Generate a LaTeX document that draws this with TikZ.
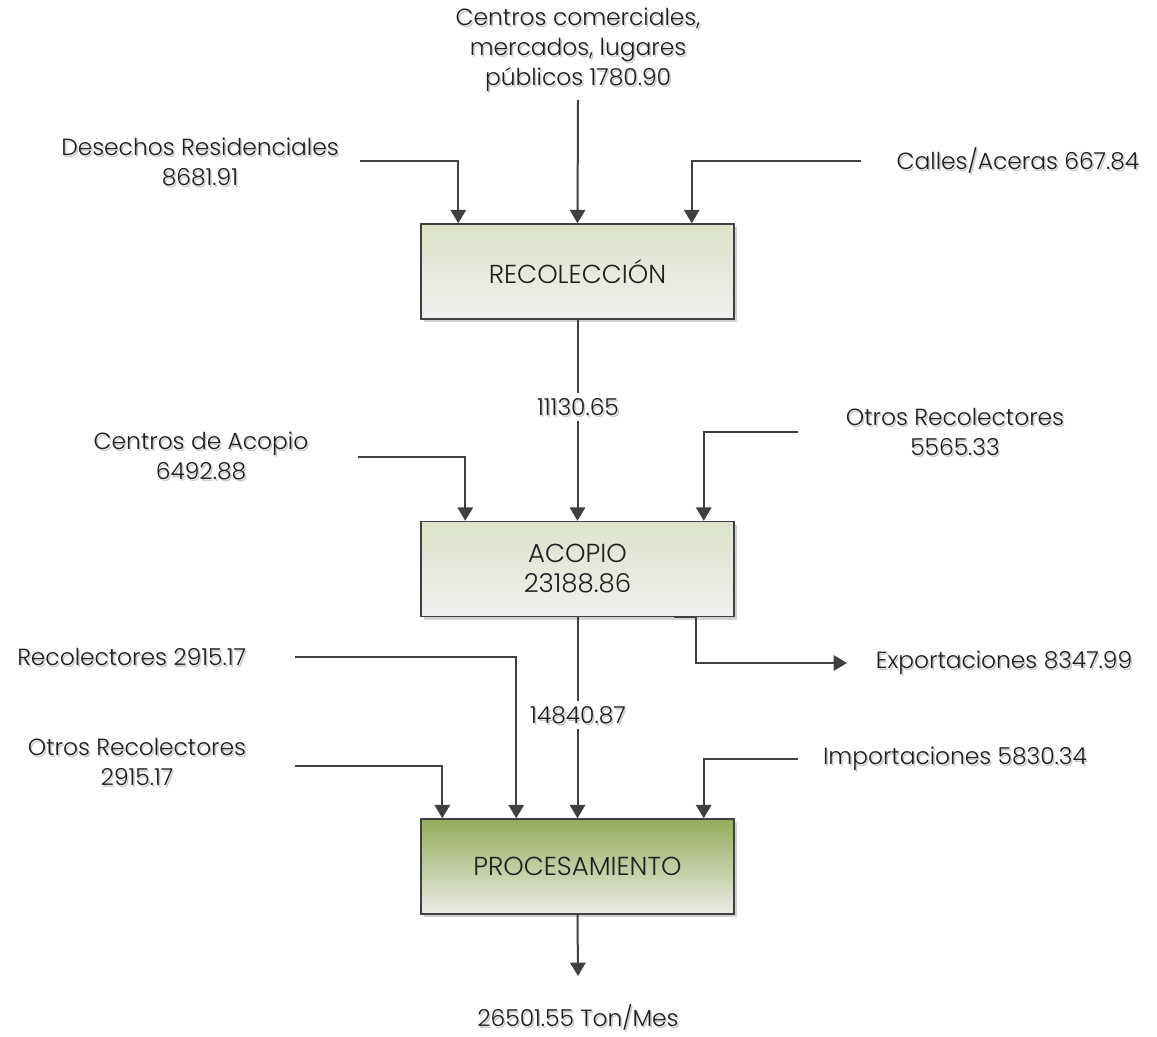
\documentclass[tikz,border=0pt]{standalone}
\usepackage{fontspec}
\setmainfont{Poppins}[UprightFont=* Light]
\usetikzlibrary{arrows.meta,shadows,calc}
\definecolor{ink}{HTML}{1E1E1E}
\definecolor{linec}{HTML}{404040}
\definecolor{shtxt}{HTML}{C8C8C8}
\definecolor{lighttop}{HTML}{DCE3C9}
\definecolor{lightbot}{HTML}{F0F0F0}
\definecolor{darktop}{HTML}{95AB5B}
\definecolor{darkbot}{HTML}{EBECE6}
\newcommand\shlabel[4][]{%
  \node[txtsh,#1] (#2-sh) at ($(#3)+(1.5,2)$) {#4};
  \node[txt,#1] (#2) at (#3) {#4};}
\tikzset{
  txt/.style={font=\fontsize{17.5}{22.5}\selectfont, text=ink, align=center, inner sep=0pt},
  txtsh/.style={txt, text=shtxt},
  box/.style={draw=linec, line width=1.1pt, minimum width=313*0.75pt, minimum height=95*0.75pt,
    inner sep=0pt, font=\fontsize{19.5}{22.5}\selectfont, text=ink, align=center,
    drop shadow={shadow xshift=2.25pt, shadow yshift=-2.25pt, fill=black!18, opacity=1}},
  lightbox/.style={box, top color=lighttop, bottom color=lightbot},
  darkbox/.style={box, top color=darktop, bottom color=darkbot},
  arr/.style={draw=linec, line width=1.5pt, -{Triangle[width=11.5pt,length=10pt]}},
  cover/.style={fill=white, inner xsep=3pt, inner ysep=4pt, font=\fontsize{17.5}{22.5}\selectfont, text=white},
}
\begin{document}
\begin{tikzpicture}[x=0.75pt, y=-0.75pt]
\useasboundingbox[fill=white] (0,0) rectangle (1157,1036);

% boxes
\node[lightbox] (rec) at (577.5,271.5) {RECOLECCIÓN};
\node[lightbox] (aco) at (577.5,569) {ACOPIO\\23188.86};
\node[darkbox]  (pro) at (577.5,866.5) {PROCESAMIENTO};

% labels
\shlabel{cc}{578,50}{Centros comerciales,\\mercados, lugares\\públicos 1780.90}
\shlabel{des}{200,162}{Desechos Residenciales\\8681.91}
\shlabel{cal}{1018,160}{Calles/Aceras 667.84}
\shlabel{cda}{201,456}{Centros de Acopio\\6492.88}
\shlabel{or1}{955,432}{Otros Recolectores\\5565.33}
\shlabel[anchor=west]{r2}{17,657}{Recolectores 2915.17}
\shlabel{or2}{137,762}{Otros Recolectores\\2915.17}
\shlabel{imp}{955,759}{Importaciones 5830.34}
\shlabel{exp}{1004,663}{Exportaciones 8347.99}
\shlabel{out}{578,1017}{26501.55 Ton/Mes}

% connector end points
\coordinate (c-cc)  at (578,100);
\coordinate (c-des) at (360,161);
\coordinate (c-cal) at (861,161);
\coordinate (c-cda) at (358,457);
\coordinate (c-or1) at (798,432);
\coordinate (c-r2)  at (295,657);
\coordinate (c-or2) at (295,766);
\coordinate (c-imp) at (798,759);
\coordinate (c-exp) at (847,663);
\coordinate (c-out) at (578,976);

% into RECOLECCION
\draw[arr] (c-des) -| ([xshift=38*0.75pt]rec.north west);
\draw[arr] (c-cc) -- (rec.north);
\draw[arr] (c-cal) -| ([xshift=-43*0.75pt]rec.north east);

% RECOLECCION -> ACOPIO
\draw[arr] (rec.south) -- (aco.north);
\node[cover] (l1-bg) at (578,407) {11130.65};
\shlabel{l1}{578,407}{11130.65}
\draw[arr] (c-cda) -| ([xshift=45*0.75pt]aco.north west);
\draw[arr] (c-or1) -| ([xshift=-31*0.75pt]aco.north east);

% ACOPIO -> PROCESAMIENTO
\draw[arr] (aco.south) -- (pro.north);
\node[cover] (l2-bg) at (578,715) {14840.87};
\shlabel{l2}{578,715}{14840.87}
\draw[arr] ([xshift=-61*0.75pt]aco.south east) -| ($(c-exp)+(-151,0)$) -- (c-exp);
\draw[arr] (c-r2) -| ([xshift=96*0.75pt]pro.north west);
\draw[arr] (c-or2) -| ([xshift=22*0.75pt]pro.north west);
\draw[arr] (c-imp) -| ([xshift=-31*0.75pt]pro.north east);

% output
\draw[arr] (pro.south) -- (c-out);
\end{tikzpicture}
\end{document}
